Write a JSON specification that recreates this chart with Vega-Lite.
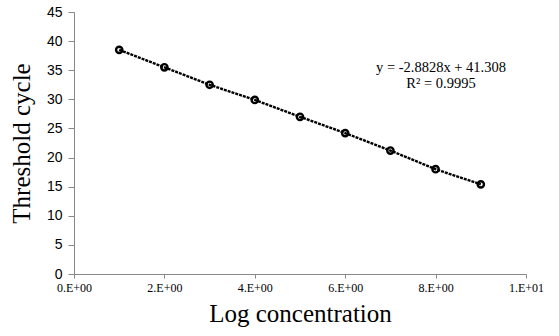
{
  "$schema": "https://vega.github.io/schema/vega-lite/v6.json",
  "width": 452,
  "height": 262,
  "autosize": "none",
  "padding": {"left": 74, "top": 12, "right": 33, "bottom": 62},
  "background": "white",
  "config": {
    "view": {"stroke": null},
    "axisX": {"grid": false,
      "labelOverlap": false, "labelBound": false, "labelFlush": false,
      "labelFont": "Liberation Serif", "labelFontSize": 12, "labelColor": "black",
      "titleFont": "Liberation Serif", "titleFontSize": 25, "titleFontWeight": "normal", "titleColor": "black",
      "titlePadding": 8, "domainColor": "#888", "tickColor": "#888", "tickSize": 4, "labelPadding": 4},
    "axisY": {"grid": false,
      "labelOverlap": false, "labelBound": false, "labelFlush": false,
      "labelFont": "Liberation Sans", "labelFontSize": 14, "labelColor": "black",
      "titleFont": "Liberation Serif", "titleFontSize": 25, "titleFontWeight": "normal", "titleColor": "black",
      "titlePadding": 12, "domainColor": "#888", "tickColor": "#888", "tickSize": 6, "labelPadding": 6}
  },
  "layer": [
    {
      "data": {"values": [
        {"conc": 1, "ct": 38.5},
        {"conc": 2, "ct": 35.5},
        {"conc": 3, "ct": 32.5},
        {"conc": 4, "ct": 29.9},
        {"conc": 5, "ct": 27.0},
        {"conc": 6, "ct": 24.2},
        {"conc": 7, "ct": 21.2},
        {"conc": 8, "ct": 18.0},
        {"conc": 9, "ct": 15.4}
      ]},
      "encoding": {
        "x": {"field": "conc", "type": "quantitative", "scale": {"domain": [0, 10], "nice": false},
          "axis": {"values": [0, 2, 4, 6, 8, 10], "title": "Log concentration",
            "labelExpr": "datum.value == 10 ? '1.E+01' : datum.value + '.E+00'"}},
        "y": {"field": "ct", "type": "quantitative", "scale": {"domain": [0, 45], "nice": false},
          "axis": {"values": [0, 5, 10, 15, 20, 25, 30, 35, 40, 45], "title": "Threshold  cycle"}}
      },
      "layer": [
        {"mark": {"type": "line", "color": "black", "strokeWidth": 2.4, "strokeDash": [3, 1]}},
        {"mark": {"type": "point", "shape": "circle", "filled": false, "color": "black", "strokeWidth": 2.4, "size": 40, "opacity": 1}}
      ]
    },
    {
      "data": {"values": [{"a": 1}]},
      "mark": {"type": "text", "font": "Liberation Serif", "fontSize": 14.5, "color": "black", "align": "center", "baseline": "middle", "lineHeight": 16,
        "text": ["y = -2.8828x + 41.308", "R² = 0.9995"]},
      "encoding": {
        "x": {"datum": 8.12, "type": "quantitative",
          "axis": {"values": [0, 2, 4, 6, 8, 10], "title": "Log concentration",
            "labelExpr": "datum.value == 10 ? '1.E+01' : datum.value + '.E+00'"}},
        "y": {"datum": 35.4, "type": "quantitative",
          "axis": {"values": [0, 5, 10, 15, 20, 25, 30, 35, 40, 45], "title": "Threshold  cycle"}}
      }
    }
  ]
}
